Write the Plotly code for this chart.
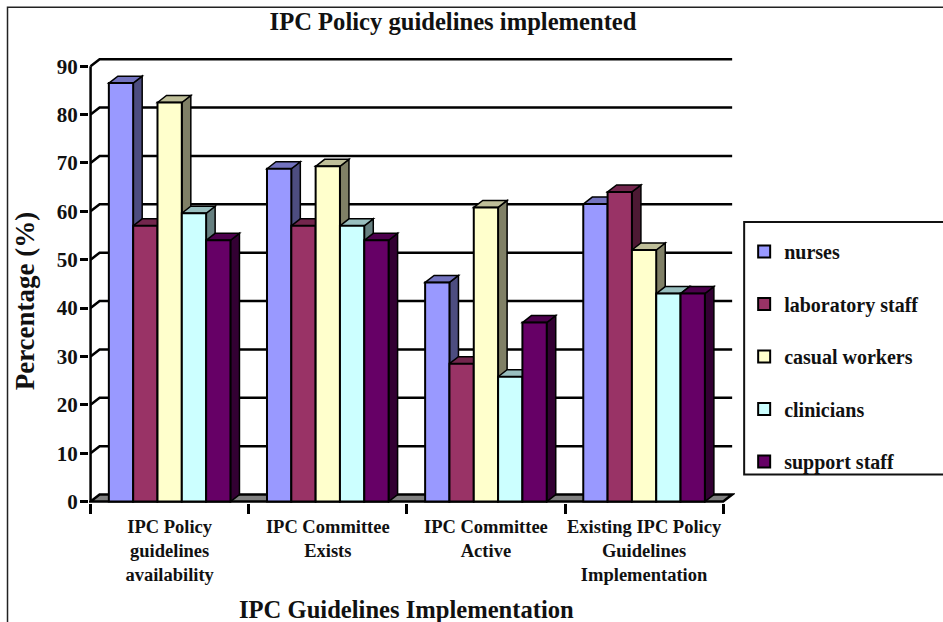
import plotly.graph_objects as go

categories = ["IPC Policy<br>guidelines<br>availability", "IPC Committee<br>Exists",
              "IPC Committee<br>Active", "Existing IPC Policy<br>Guidelines<br>Implementation"]
nurses = [86.5, 68.8, 45.3, 61.5]
laboratory_staff = [57, 57, 28.5, 64]
casual_workers = [82.5, 69.3, 60.8, 52]
clinicians = [59.6, 57, 25.8, 43]
support_staff = [54, 54, 37, 43]
y_ticks = list(range(0, 100, 10))

series = [
    ("nurses", nurses, "#9999FF", "#4D4D80", "#7373BF"),
    ("laboratory staff", laboratory_staff, "#993366", "#4D1933", "#73264D"),
    ("casual workers", casual_workers, "#FFFFCC", "#808066", "#BFBF99"),
    ("clinicians", clinicians, "#CCFFFF", "#668080", "#99BFBF"),
    ("support staff", support_staff, "#660066", "#330033", "#4D004D"),
]

FONT = "Liberation Serif"
W, H = 943, 622
PX_X, PX_Y = 158.0, 4.844
X0, X1, Y0, Y1 = -0.01, 4.075, -0.3, 91.9
LEFT = 91 + X0 * PX_X
BOTTOM = 502 - Y0 * PX_Y
PW = (X1 - X0) * PX_X
PH = (Y1 - Y0) * PX_Y
TOP = BOTTOM - PH
DX, DY = 9 / PX_X, 7 / PX_Y
BARGAP = 0.231
BW = (1 - BARGAP) / 5
LW = 2.5


def px(x):
    return (x - LEFT) / PW


def py(y):
    return (BOTTOM - y) / PH


shapes = []
# frame
shapes.append(dict(type="rect", xref="paper", yref="paper", x0=px(8), x1=px(1000), y0=py(700), y1=py(7),
                   line=dict(color="#222222", width=1.5), layer="below"))
# legend box
shapes.append(dict(type="rect", xref="paper", yref="paper", x0=px(744), x1=px(1000), y0=py(475), y1=py(222),
                   line=dict(color="#111111", width=2), layer="below"))
# floor
shapes.append(dict(type="path", xref="x", yref="y", layer="below",
                   path=f"M0,0 L{DX},{DY} L{4 + DX},{DY} L4,0 Z", fillcolor="#808080",
                   line=dict(color="black", width=LW)))
# walls, gridlines
for v in y_ticks[1:]:
    shapes.append(dict(type="path", xref="x", yref="y", layer="below",
                       path=f"M0,{v} L{DX},{v + DY} L{4 + DX},{v + DY}",
                       line=dict(color="black", width=LW)))
shapes.append(dict(type="line", xref="x", yref="y", layer="below", x0=0, x1=0, y0=0, y1=y_ticks[-1],
                   line=dict(color="black", width=LW)))

# 3-D faces, derived from the values
for k, (name, vals, col, side, top) in enumerate(series):
    for g, v in enumerate(vals):
        xl = g + BARGAP / 2 + k * BW
        xr = xl + BW
        shapes.append(dict(type="path", xref="x", yref="y", layer="below",
                           path=f"M{xr},0 L{xr + DX},{DY} L{xr + DX},{v + DY} L{xr},{v} Z",
                           fillcolor=side, line=dict(color="black", width=1.5)))
        shapes.append(dict(type="path", xref="x", yref="y", layer="below",
                           path=f"M{xl},{v} L{xl + DX},{v + DY} L{xr + DX},{v + DY} L{xr},{v} Z",
                           fillcolor=top, line=dict(color="black", width=1.5)))

fig = go.Figure()
centers = [i + 0.5 for i in range(len(categories))]
for name, vals, col, side, top in series:
    fig.add_bar(x=centers, y=vals, name=name, legendgroup=name,
                marker=dict(color=col, line=dict(color="black", width=2)))

annotations = [
    dict(text="<b>IPC Guidelines Implementation</b>", xref="paper", yref="paper", x=px(407), y=py(610),
         xanchor="center", yanchor="middle", showarrow=False,
         font=dict(size=24.6, family=FONT, color="#111111")),
    dict(text="<b>Percentage (%)</b>", xref="paper", yref="paper", x=px(25), y=py(301),
         xanchor="center", yanchor="middle", textangle=-90, showarrow=False,
         font=dict(size=27, family=FONT, color="#111111")),
]

fig.update_layout(
    width=W, height=H, autosize=False,
    margin=dict(l=LEFT, r=W - LEFT - PW, t=TOP, b=H - BOTTOM, pad=0, autoexpand=False),
    paper_bgcolor="white", plot_bgcolor="rgba(0,0,0,0)",
    barmode="group", bargap=BARGAP, bargroupgap=0,
    shapes=shapes, annotations=annotations,
    font=dict(family=FONT, color="#111111"),
    title=dict(text="<b>IPC Policy guidelines implemented</b>", font=dict(size=24.6, family=FONT, color="#111111"),
               x=453 / W, xanchor="center", y=1 - 21 / H, yanchor="middle"),
    xaxis=dict(
        range=[X0, X1], showgrid=False, zeroline=False, showline=False, automargin=False,
        tickmode="array", tickvals=centers, ticktext=[f"<b>{c.replace('<br>', '</b><br><b>')}</b>" for c in categories],
        ticks="", tickfont=dict(size=18.5, family=FONT, color="#111111"), ticklabelstandoff=10,
        minor=dict(tickmode="array", tickvals=[0, 1, 2, 3, 4], ticks="outside", ticklen=10, tickwidth=LW, tickcolor="black"),
    ),
    yaxis=dict(
        range=[Y0, Y1], showgrid=False, zeroline=False, showline=False, automargin=False,
        tickmode="array", tickvals=y_ticks, ticktext=[f"<b>{v}</b>" for v in y_ticks],
        ticks="outside", ticklen=8, tickwidth=LW, tickcolor="black", ticklabelstandoff=-2,
        tickfont=dict(size=21, family=FONT, color="#111111"),
    ),
    legend=dict(x=px(744), y=py(232), xanchor="left", yanchor="top", bgcolor="rgba(0,0,0,0)", borderwidth=0,
                tracegroupgap=23.5, font=dict(size=20, family=FONT, color="#111111", weight="bold"),
                traceorder="grouped", itemclick=False, itemdoubleclick=False),
)
fig.write_html("out.html", config=dict(displayModeBar=False),
               post_script="document.body.style.margin='0';document.body.style.overflow='hidden';")
